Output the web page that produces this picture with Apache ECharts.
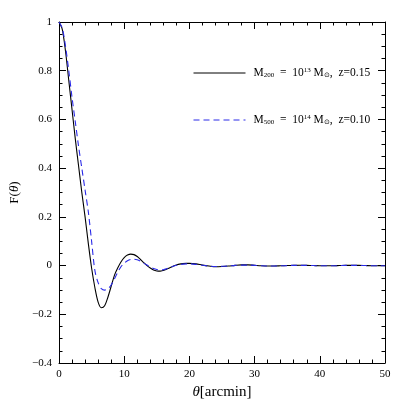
<!DOCTYPE html>
<html>
<head>
<meta charset="utf-8">
<script src="https://cdn.jsdelivr.net/npm/echarts@6/dist/echarts.min.js"></script>
<style>
  html, body { margin: 0; padding: 0; background: #fff; }
  #chart { width: 407px; height: 407px; }
</style>
</head>
<body>
<div id="chart"></div>
<script>
// theta in arcmin
const theta = [
  0, 0.5, 1, 1.5, 2, 2.5, 3, 3.5, 4, 4.5, 5, 5.5, 6, 6.5, 7, 7.5, 8, 8.5, 9, 9.5,
  10, 10.5, 11, 11.5, 12, 12.5, 13, 13.5, 14, 14.5, 15, 15.5, 16, 16.5, 17, 17.5, 18, 18.5, 19, 19.5,
  20, 21, 22, 23, 24, 25, 26, 27, 28, 29, 30, 31, 32, 33, 34, 35, 36, 37, 38, 39,
  40, 41, 42, 43, 44, 45, 46, 47, 48, 49, 50
];
// M200 = 1e13, z=0.15 (solid black)
const fM200 = [
  1.0, 0.97, 0.88, 0.76, 0.64, 0.52, 0.41, 0.30, 0.20, 0.09, -0.01, -0.09, -0.15, -0.173, -0.165, -0.13, -0.085, -0.04, -0.01, 0.015,
  0.033, 0.043, 0.047, 0.045, 0.037, 0.025, 0.012, 0.0, -0.01, -0.018, -0.022, -0.023, -0.02, -0.015, -0.009, -0.003, 0.002, 0.006, 0.008, 0.009,
  0.009, 0.007, 0.002, -0.002, -0.005, -0.004, -0.002, 0.001, 0.003, 0.003, 0.001, -0.001, -0.002, -0.002, -0.001, 0.0, 0.001, 0.0015, 0.001, 0.0,
  -0.001, -0.001, -0.001, 0.0, 0.001, 0.001, 0.001, 0.0, -0.001, -0.001, -0.001
];
// M500 = 1e14, z=0.10 (dashed blue)
const fM500 = [
  1.0, 0.975, 0.90, 0.80, 0.69, 0.59, 0.49, 0.40, 0.31, 0.22, 0.10, -0.02, -0.07, -0.095, -0.101, -0.095, -0.08, -0.055, -0.028, -0.005,
  0.01, 0.02, 0.025, 0.026, 0.024, 0.018, 0.01, 0.002, -0.006, -0.012, -0.016, -0.018, -0.017, -0.013, -0.008, -0.003, 0.001, 0.004, 0.006, 0.007,
  0.007, 0.005, 0.001, -0.002, -0.004, -0.003, -0.002, 0.001, 0.002, 0.002, 0.001, -0.001, -0.0015, -0.0015, -0.001, 0.0, 0.001, 0.001, 0.001, 0.0,
  -0.001, -0.001, -0.001, 0.0, 0.001, 0.001, 0.0005, 0.0, -0.0005, -0.001, -0.001
];

const FONT = 'Liberation Serif';

const chart = echarts.init(document.getElementById('chart'));

function pairs(ys) {
  return theta.map((t, i) => [t, ys[i]]);
}

const legendText = {
  M200: '{n|M}{sub|200}{n|  =  10}{sup|13}{n| M}{sub|⊙}{n|,  z=0.15}',
  M500: '{n|M}{sub|500}{n|  =  10}{sup|14}{n| M}{sub|⊙}{n|,  z=0.10}'
};

const axisLine = { show: true, onZero: false, lineStyle: { color: '#000', width: 1 } };
const axisTick = { show: true, inside: true, length: 7, lineStyle: { color: '#000' } };

function minor(n) {
  return { show: true, splitNumber: n, length: 3.5, lineStyle: { color: '#000' } };
}

const option = {
  animation: false,
  backgroundColor: '#fff',
  grid: { left: 57, right: 22, top: 22, bottom: 44 },
  legend: {
    orient: 'vertical',
    left: 188,
    top: 62,
    itemWidth: 52,
    itemHeight: 12,
    itemGap: 35,
    itemStyle: { opacity: 0 },
    lineStyle: { width: 1 },
    data: ['M200', 'M500'],
    formatter: name => legendText[name],
    textStyle: {
      fontFamily: FONT,
      fontSize: 11,
      color: '#000',
      padding: [0, 0, 0, 3],
      rich: {
        n: { fontSize: 11.5, fontFamily: FONT, color: '#000' },
        sub: { fontSize: 7, fontFamily: FONT, color: '#000', padding: [5, 0, 0, 0] },
        sup: { fontSize: 7, fontFamily: FONT, color: '#000', padding: [0, 0, 5, 0] }
      }
    }
  },
  xAxis: [{
    type: 'value', min: 0, max: 50, interval: 10,
    minorTick: minor(5),
    axisLine: axisLine, axisTick: axisTick, splitLine: { show: false },
    axisLabel: { color: '#000', fontFamily: FONT, fontSize: 11, margin: 6 },
    name: '{it|θ}{n|[arcmin]}',
    nameLocation: 'middle',
    nameGap: 19,
    nameTextStyle: {
      rich: {
        it: { fontFamily: FONT, fontSize: 15, fontStyle: 'italic', color: '#000' },
        n: { fontFamily: FONT, fontSize: 15, color: '#000' }
      }
    }
  }, {
    type: 'value', min: 0, max: 50, interval: 10, position: 'top',
    minorTick: minor(5),
    axisLine: axisLine, axisTick: axisTick, splitLine: { show: false },
    axisLabel: { show: false }
  }],
  yAxis: [{
    type: 'value', min: -0.4, max: 1, interval: 0.2,
    minorTick: minor(4),
    axisLine: axisLine, axisTick: axisTick, splitLine: { show: false },
    axisLabel: {
      color: '#000', fontFamily: FONT, fontSize: 11, margin: 7,
      formatter: v => {
        const r = Math.round(v * 10) / 10;
        return r === 0 ? '0' : String(r).replace('-', '−');
      }
    },
    name: 'F({it|θ})',
    nameLocation: 'middle',
    nameGap: 38,
    nameTextStyle: {
      fontFamily: FONT, fontSize: 13, color: '#000',
      rich: { it: { fontFamily: FONT, fontSize: 13, fontStyle: 'italic', color: '#000' } }
    }
  }, {
    type: 'value', min: -0.4, max: 1, interval: 0.2, position: 'right',
    minorTick: minor(4),
    axisLine: axisLine, axisTick: axisTick, splitLine: { show: false },
    axisLabel: { show: false }
  }],
  series: [{
    name: 'M200',
    type: 'line',
    data: pairs(fM200),
    smooth: 0.3,
    symbol: 'none',
    lineStyle: { color: '#000', width: 1.1 },
    itemStyle: { color: '#000' }
  }, {
    name: 'M500',
    type: 'line',
    data: pairs(fM500),
    smooth: 0.3,
    symbol: 'none',
    lineStyle: { color: '#2a2ae8', width: 1.1, type: [6, 4] },
    itemStyle: { color: '#2a2ae8' }
  }]
};

chart.setOption(option);
</script>
</body>
</html>
